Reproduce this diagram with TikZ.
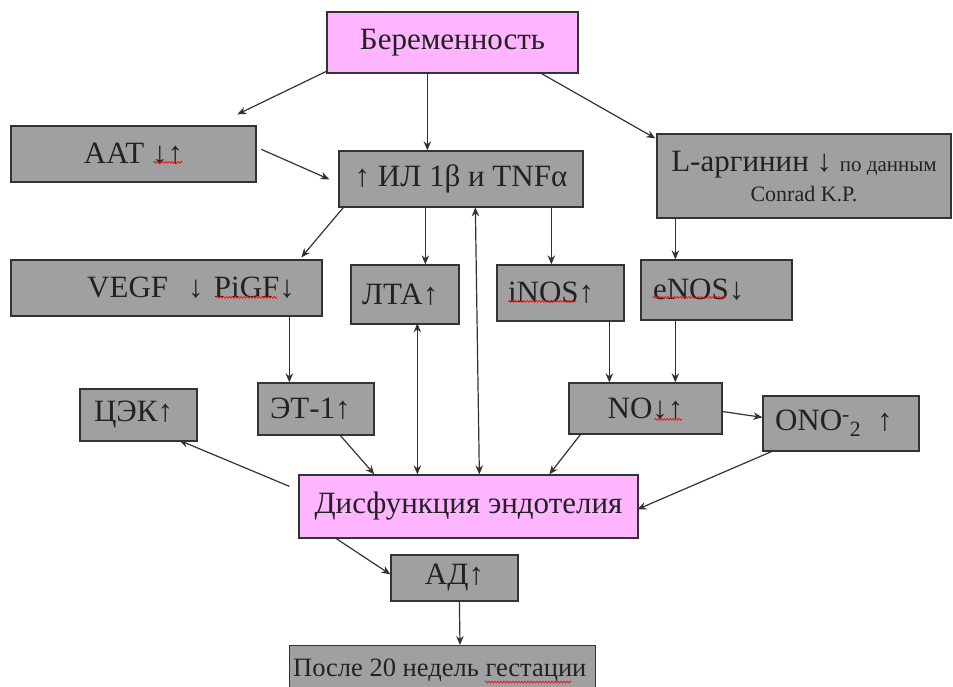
\documentclass[tikz,border=0pt]{standalone}
\usepackage{fontspec}
\setmainfont{Liberation Serif}
\usetikzlibrary{arrows.meta,calc,decorations.pathmorphing}
\definecolor{boxgray}{HTML}{A0A0A0}
\definecolor{boxpink}{HTML}{FFB5FF}
\definecolor{edgecol}{HTML}{333333}
\definecolor{txt}{HTML}{222222}
\begin{document}
\begin{tikzpicture}[x=1pt,y=-1pt,
  box/.style={draw=edgecol, line width=1.3pt, fill=boxgray, inner sep=0pt, text=txt, font=\fontsize{31}{35}\selectfont},
  pbox/.style={box, fill=boxpink},
  lbl/.style={inner sep=0pt, text=txt, align=center},
  arr/.style={draw=edgecol, line width=1.2pt, -{Stealth[length=9pt,width=7.5pt]}},
  darr/.style={arr, {Stealth[length=9pt,width=7.5pt]}-{Stealth[length=9pt,width=7.5pt]}},
  squig/.style={red, line width=0.6pt, decorate, decoration={snake, amplitude=1pt, segment length=3pt}}]
\useasboundingbox (0,0) rectangle (953,686);

\node[pbox, minimum width=251pt, minimum height=61pt] (bere) at (452.5,42.5) {Беременность};
\node[box, minimum width=245pt, minimum height=56pt] (aat) at (133.5,154) {AAT ↓↑};
\node[box, minimum width=244pt, minimum height=56pt] (il) at (461,179) {↑ ИЛ 1β и TNFα};
\node[box, minimum width=294pt, minimum height=84pt] (larg) at (804,176) {};
\node[lbl, font=\fontsize{22}{30}\selectfont] (larglbl) at ($(larg.center)+(0,1)$)
  {{\fontsize{31}{35}\selectfont L-аргинин ↓ }{\fontsize{21}{24}\selectfont по данным}\\Conrad K.P.};
\node[box, minimum width=311pt, minimum height=56pt, text width=257pt, align=right] (vegf) at (166.5,288) {VEGF\hspace{20pt}↓ PiGF↓};
\node[box, minimum width=108pt, minimum height=59pt, text width=86pt, align=left] (lta) at (405,294.5) {ЛТА↑};
\node[box, minimum width=127pt, minimum height=56pt, text width=105pt, align=left] (inos) at (560.5,293) {iNOS↑};
\node[box, minimum width=151pt, minimum height=60pt, text width=127pt, align=left] (enos) at (716.5,290) {eNOS↓};
\node[box, minimum width=117pt, minimum height=52pt, text width=89pt, align=left] (cek) at (138.5,415) {ЦЭК↑};
\node[box, minimum width=116pt, minimum height=52pt, text width=92pt, align=left] (et1) at (316,409) {ЭТ-1↑};
\node[box, minimum width=153pt, minimum height=51pt] (no) at (645.5,408.5) {NO↓↑};
\node[box, minimum width=156pt, minimum height=55pt, text width=132pt, align=left] (ono) at (841,423.5) {ONO\textsuperscript{-}\textsubscript{2}\hspace{16pt}↑};
\node[pbox, minimum width=339pt, minimum height=63pt] (dis) at (468.5,506.5) {Дисфункция эндотелия};
\node[box, minimum width=127pt, minimum height=46pt] (ad) at (454.5,578) {АД↑};
\node[box, anchor=north west, minimum width=306pt, minimum height=46pt] (posle) at (289,645) {};
\node[lbl, anchor=base west, font=\fontsize{26.5}{31}\selectfont] (poslelbl) at ($(posle.north west)+(4,31)$) {После 20 недель гестации};

% connectors
\draw[arr] ($(bere.north west)+(0,60)$) -- ($(aat.north west)+(227,-11)$);
\draw[arr] ($(bere.north west)+(101,61)$) -- ($(il.north west)+(89,0)$);
\draw[arr] ($(bere.north west)+(213,61)$) -- ($(larg.north west)+(-1,5)$);
\draw[arr] ($(aat.north west)+(251,24)$) -- ($(il.north west)+(-9,29)$);
\draw[arr] ($(il.north west)+(6,56)$) -- ($(vegf.north west)+(291,-2)$);
\draw[arr] ($(il.north west)+(87,56)$) -- ($(lta.north west)+(75,0)$);
\draw[darr] ($(il.north west)+(137,57)$) -- ($(dis.north west)+(181,0)$);
\draw[arr] ($(il.north west)+(213,56)$) -- ($(inos.north west)+(55,0)$);
\draw[arr] ($(larg.north west)+(19,84)$) -- ($(enos.north west)+(35,0)$);
\draw[arr] ($(vegf.north west)+(279,56)$) -- ($(et1.north west)+(32,0)$);
\draw[darr] ($(lta.north west)+(67,59)$) -- ($(dis.north west)+(119,0)$);
\draw[arr] ($(inos.north west)+(113,56)$) -- ($(no.north west)+(41,0)$);
\draw[arr] ($(enos.north west)+(35,60)$) -- ($(no.north west)+(107,0)$);
\draw[arr] ($(no.north west)+(153,29)$) -- ($(ono.north west)+(0,22)$);
\draw[arr] ($(et1.north west)+(82,52)$) -- ($(dis.north west)+(76,0)$);
\draw[arr] ($(no.north west)+(13,51)$) -- ($(dis.north west)+(251,0)$);
\draw[arr] ($(ono.north west)+(12,55)$) -- ($(dis.north west)+(339,35)$);
\draw[arr] ($(dis.north west)+(-9,12)$) -- ($(cek.north west)+(100,52)$);
\draw[arr] ($(dis.north west)+(36,63)$) -- ($(ad.north west)+(0,20)$);
\draw[arr] ($(ad.north west)+(69,46)$) -- ($(posle.north west)+(171,0)$);

% spell-check underlines
\draw[squig] ($(aat.north west)+(143,37)$) -- +(29,0);
\draw[squig] ($(vegf.north west)+(206,38)$) -- +(61,0);
\draw[squig] ($(inos.north west)+(12,37)$) -- +(68,0);
\draw[squig] ($(enos.north west)+(12,38)$) -- +(74,0);
\draw[squig] ($(no.north west)+(86,37)$) -- +(28,0);
\draw[squig] ($(posle.north west)+(196,37)$) -- +(86,0);
\end{tikzpicture}
\end{document}
